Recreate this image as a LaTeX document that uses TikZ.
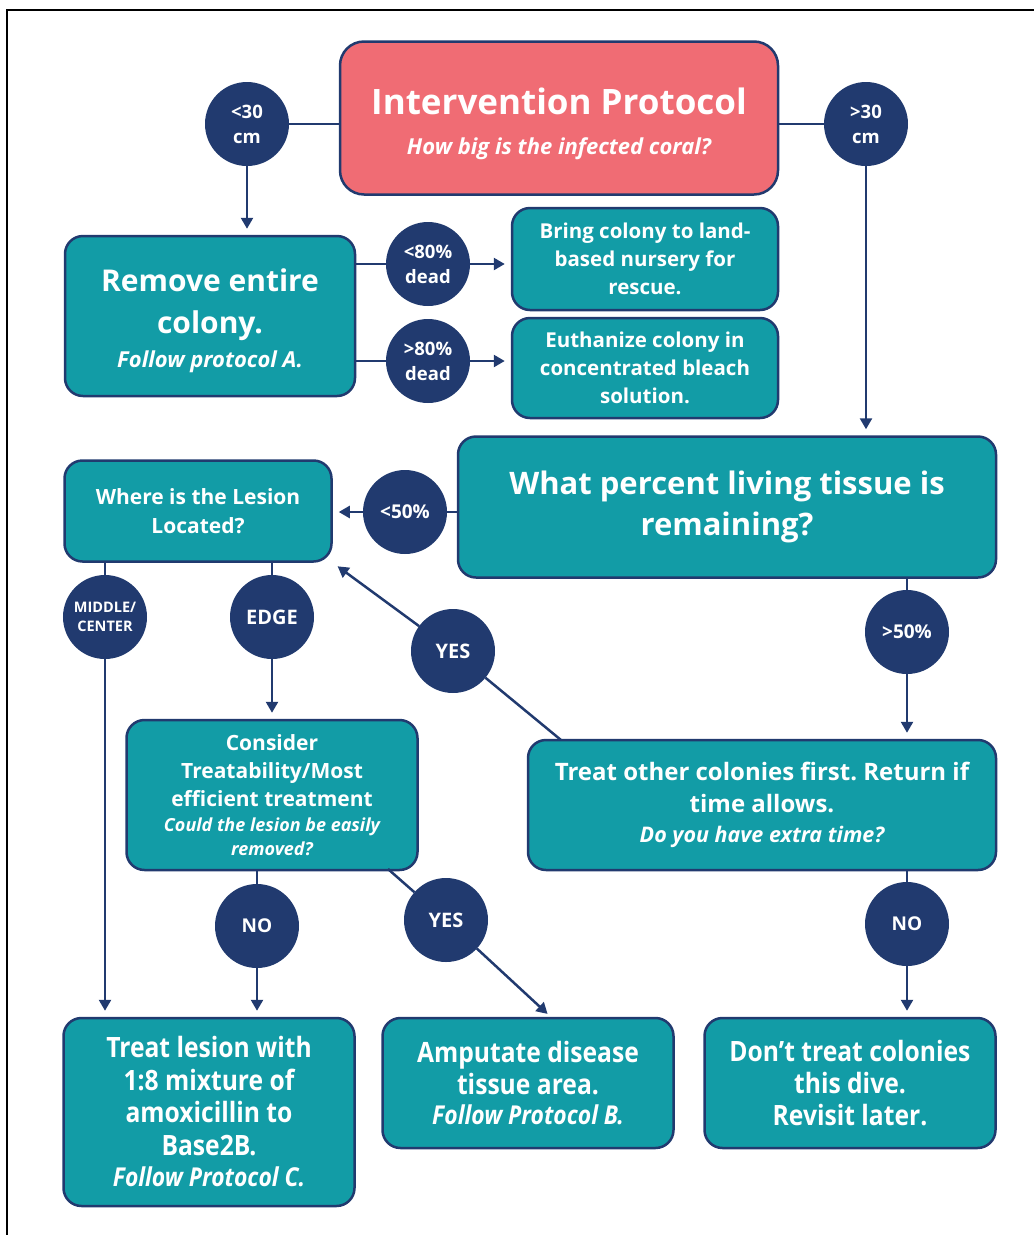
\documentclass[tikz,border=0pt]{standalone}
\usepackage{fontspec}
\setmainfont{Open Sans}
\newfontfamily\narrowfont[FakeStretch=0.88]{Open Sans}
\usetikzlibrary{arrows.meta}
\definecolor{deepnavy}{HTML}{213A6F}
\definecolor{reefteal}{HTML}{129CA6}
\definecolor{coralred}{HTML}{F06C74}
\newcommand{\fs}[2]{\fontsize{#1}{#2}\selectfont}
\frenchspacing
\begin{document}
\begin{tikzpicture}[x=1pt,y=-1pt,
  box/.style={draw=deepnavy, line width=2.5pt, fill=reefteal, rounded corners=18pt,
    text=white, align=center, inner sep=0pt},
  dot/.style={circle, draw=deepnavy, line width=2pt, fill=deepnavy, text=white,
    minimum size=82pt, inner sep=0pt, align=center, font=\bfseries\fs{18.5}{25}},
  link/.style={deepnavy, line width=2.5pt},
  arr/.style={link, -{Triangle[length=11pt,width=12pt]}, shorten >=6pt}]
\useasboundingbox (0,0) rectangle (1034,1235);
\draw[black, line width=2pt] (7,1235) -- (7,10) -- (1034,10);

% boxes
\node[box, fill=coralred, minimum width=438pt, minimum height=153pt, rounded corners=24pt,
  font=\bfseries\fs{35}{39}] (title) at (559,118)
  {\rule{0pt}{38pt}Intervention Protocol\\[1pt] \itshape\fs{22}{28}How big is the infected coral?};
\node[box, minimum width=290pt, minimum height=160pt, font=\bfseries\fs{30}{42}] (remove) at (210,316)
  {\rule{0pt}{33pt}Remove entire\\colony.\\[-8pt] \itshape\fs{22}{26}Follow protocol A.};
\node[box, minimum width=266pt, minimum height=102pt, font=\bfseries\fs{20.5}{28}] (bring) at (645,259)
  {Bring colony to land-\\based nursery for\\rescue.};
\node[box, minimum width=266pt, minimum height=100pt, font=\bfseries\fs{20.5}{28}] (euth) at (645,368)
  {Euthanize colony in\\concentrated bleach\\solution.};
\node[box, minimum width=538pt, minimum height=141pt, font=\bfseries\fs{31}{41}] (what) at (727,507)
  {What percent living tissue is\\remaining?};
\node[box, minimum width=267pt, minimum height=101pt, font=\bfseries\fs{21}{29}] (where) at (198,511)
  {Where is the Lesion\\Located?};
\node[box, minimum width=291pt, minimum height=150pt, font=\bfseries\fs{21}{28}] (consider) at (272,795)
  {Consider\\Treatability/Most\\efficient treatment\\[-3pt]
   \itshape\fs{18}{24}Could the lesion be easily\\[-4pt] \itshape\fs{18}{24}removed?};
\node[box, minimum width=468pt, minimum height=130pt, font=\bfseries\fs{24}{32}] (other) at (762,805)
  {Treat other colonies first. Return if\\time allows.\\[-2pt] \itshape\fs{21.5}{28}Do you have extra time?};
\node[box, minimum width=291pt, minimum height=188pt, font=\bfseries\narrowfont\fs{28}{32.5}] (lesion) at (209,1112)
  {Treat lesion with\\1:8 mixture of\\amoxicillin to\\Base2B.\\[-1pt] \itshape\fs{26}{31}Follow Protocol C.};
\node[box, minimum width=291pt, minimum height=130pt, font=\bfseries\narrowfont\fs{28}{32}] (amputate) at (528,1083)
  {Amputate disease\\tissue area.\\[-2pt] \itshape\fs{26}{30}Follow Protocol B.};
\node[box, minimum width=291pt, minimum height=130pt, font=\bfseries\narrowfont\fs{28}{32}] (dont) at (850,1083)
  {Don’t treat colonies\\this dive.\\Revisit later.};

% answers
\node[dot] (lt30) at (247,124) {<30\\cm};
\node[dot] (gt30) at (866,124) {>30\\cm};
\node[dot] (lt80) at (428,264) {<80\%\\dead};
\node[dot] (gt80) at (428,361) {>80\%\\dead};
\node[dot, font=\bfseries\fs{19}{25}] (lt50) at (405,512) {<50\%};
\node[dot, font=\bfseries\fs{14.5}{19}] (mid) at (105,617) {MIDDLE/\\CENTER};
\node[dot, font=\bfseries\fs{20}{25}] (edge) at (272,617) {EDGE};
\node[dot, font=\bfseries\fs{20}{25}] (yes1) at (453,651) {YES};
\node[dot, font=\bfseries\fs{19}{25}] (gt50) at (907,632) {>50\%};
\node[dot, font=\bfseries\fs{19}{25}] (no1) at (257,926) {NO};
\node[dot, font=\bfseries\fs{20}{25}] (yes2) at (446,920) {YES};
\node[dot, font=\bfseries\fs{19}{25}] (no2) at (907,924) {NO};

\coordinate (otherTL) at (561,740);
\coordinate (considerBR) at (388,869);
\coordinate (amputateT) at (552,1018);

% connectors
\draw[link] (lt30.east) -- (lt30.east -| title.west);
\draw[link] (gt30.west) -- (gt30.west -| title.east);
\draw[arr] (lt30.south) -- (lt30.south |- remove.north);
\draw[link] (lt80.west -| remove.east) -- (lt80.west);
\draw[arr] (lt80.east) -- (lt80.east -| bring.west);
\draw[link] (gt80.west -| remove.east) -- (gt80.west);
\draw[arr] (gt80.east) -- (gt80.east -| euth.west);
\draw[arr] (gt30.south) -- (gt30.south |- what.north);
\draw[link] (lt50.east -| what.west) -- (lt50.east);
\draw[arr] (lt50.west) -- (lt50.west -| where.east);
\draw[link] (mid.north |- where.south) -- (mid.north);
\draw[arr] (mid.south) -- (mid.south |- lesion.north);
\draw[link] (edge.north |- where.south) -- (edge.north);
\draw[arr] (edge.south) -- (edge.south |- consider.north);
\draw[link] (otherTL) -- (yes1);
\draw[arr] (yes1) -- (where.south east);
\draw[link] (gt50.north |- what.south) -- (gt50.north);
\draw[arr] (gt50.south) -- (gt50.south |- other.north);
\draw[link] (no1.north |- consider.south) -- (no1.north);
\draw[arr] (no1.south) -- (no1.south |- lesion.north);
\draw[link] (considerBR) -- (yes2);
\draw[arr] (yes2) -- (amputateT);
\draw[link] (no2.north |- other.south) -- (no2.north);
\draw[arr] (no2.south) -- (no2.south |- dont.north);
\end{tikzpicture}
\end{document}
